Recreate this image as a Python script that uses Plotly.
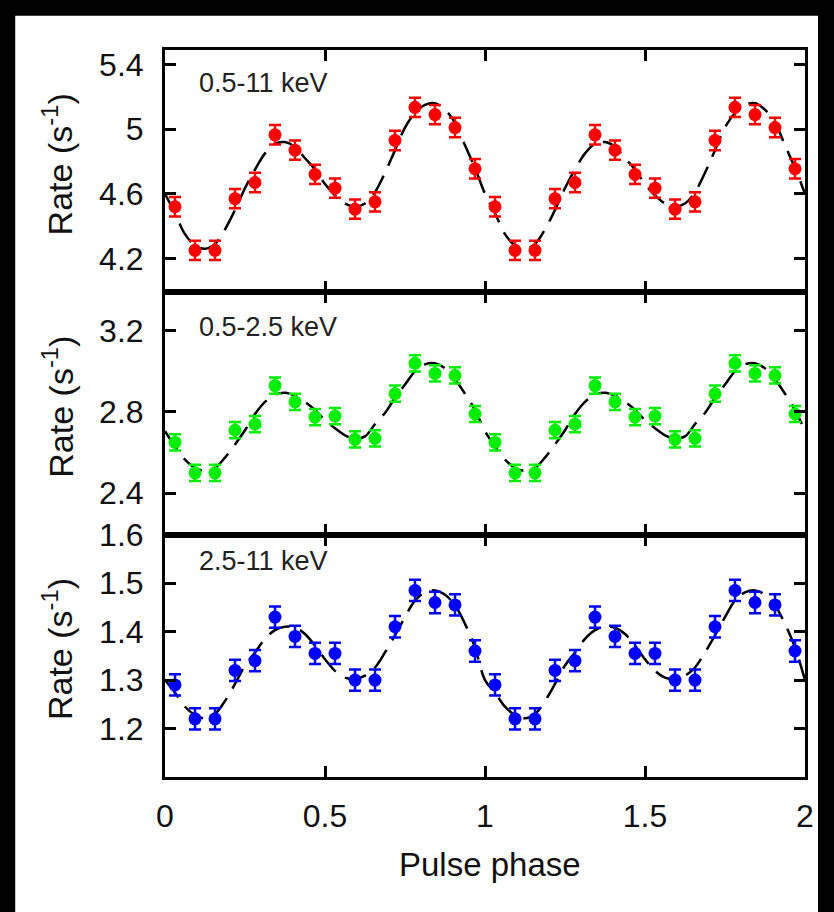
import plotly.graph_objects as go
from plotly.subplots import make_subplots

# ---- data (one pulse cycle, repeated for phase 1-2) ----
bin_phase = [0.03125, 0.09375, 0.15625, 0.21875, 0.28125, 0.34375, 0.40625, 0.46875,
             0.53125, 0.59375, 0.65625, 0.71875, 0.78125, 0.84375, 0.90625, 0.96875]

rate_full = [4.52, 4.25, 4.25, 4.57, 4.67, 4.965, 4.87, 4.72,
             4.635, 4.505, 4.55, 4.93, 5.135, 5.09, 5.01, 4.755]
err_full = [0.06, 0.06, 0.06, 0.06, 0.06, 0.06, 0.06, 0.06,
            0.06, 0.06, 0.06, 0.06, 0.06, 0.06, 0.06, 0.06]

rate_soft = [2.65, 2.50, 2.50, 2.71, 2.74, 2.93, 2.85, 2.775,
             2.78, 2.665, 2.67, 2.89, 3.04, 2.99, 2.98, 2.79]
err_soft = [0.04, 0.04, 0.04, 0.04, 0.04, 0.04, 0.04, 0.04,
            0.04, 0.04, 0.04, 0.04, 0.04, 0.04, 0.04, 0.04]

rate_hard = [1.29, 1.22, 1.22, 1.32, 1.34, 1.43, 1.39, 1.355,
             1.355, 1.30, 1.30, 1.41, 1.485, 1.46, 1.455, 1.36]
err_hard = [0.022, 0.022, 0.022, 0.022, 0.022, 0.022, 0.022, 0.022,
            0.022, 0.022, 0.022, 0.022, 0.022, 0.022, 0.022, 0.022]

# model curves, phase 0..1 in steps of 1/32
model_phase = [i / 32 for i in range(33)]
model_full = [4.60, 4.48, 4.35, 4.28, 4.26, 4.29, 4.38, 4.50, 4.635, 4.75, 4.85,
              4.91, 4.92, 4.89, 4.82, 4.75, 4.66, 4.59, 4.54, 4.52, 4.54, 4.61,
              4.73, 4.87, 5.01, 5.10, 5.15, 5.16, 5.12, 5.04, 4.90, 4.76, 4.60]
model_soft = [2.705, 2.63, 2.565, 2.525, 2.51, 2.525, 2.575, 2.64, 2.71, 2.79, 2.85,
              2.885, 2.895, 2.88, 2.85, 2.81, 2.76, 2.72, 2.685, 2.67, 2.68, 2.74,
              2.795, 2.87, 2.935, 3.00, 3.035, 3.04, 3.015, 2.96, 2.89, 2.81, 2.705]
model_hard = [1.30, 1.274, 1.245, 1.228, 1.221, 1.23, 1.257, 1.292, 1.33, 1.357, 1.385,
              1.403, 1.41, 1.408, 1.395, 1.371, 1.343, 1.319, 1.305, 1.302, 1.309, 1.326,
              1.357, 1.392, 1.43, 1.464, 1.481, 1.485, 1.476, 1.454, 1.416, 1.367, 1.30]

band_labels = ["0.5-11 keV", "0.5-2.5 keV", "2.5-11 keV"]
x_ticks = [0, 0.5, 1, 1.5, 2]
x_ticktext = ["0", "0.5", "1", "1.5", "2"]
y_ticks = [[4.2, 4.6, 5.0, 5.4], [2.4, 2.8, 3.2], [1.2, 1.3, 1.4, 1.5, 1.6]]
y_ticktext = [["4.2", "4.6", "5", "5.4"], ["2.4", "2.8", "3.2"], ["1.2", "1.3", "1.4", "1.5", "1.6"]]
y_ranges = [[3.99, 5.49], [2.195, 3.39], [1.1, 1.6]]
colors = ["#ff0000", "#00ee00", "#0000ff"]

# ---- figure ----
fig = make_subplots(rows=3, cols=1, shared_xaxes=True, vertical_spacing=0)

series = [(rate_full, err_full, model_full),
          (rate_soft, err_soft, model_soft),
          (rate_hard, err_hard, model_hard)]

phase2 = bin_phase + [p + 1 for p in bin_phase]
mphase2 = model_phase + [p + 1 for p in model_phase[1:]]

for i, (rate, err, model) in enumerate(series):
    row = i + 1
    fig.add_trace(go.Scatter(
        x=mphase2, y=model + model[1:], mode="lines",
        line=dict(color="black", width=2.5, dash="22px,11px", shape="spline"),
        showlegend=False, hoverinfo="skip"), row=row, col=1)
    fig.add_trace(go.Scatter(
        x=phase2, y=rate + rate, mode="markers",
        marker=dict(color=colors[i], size=13),
        error_y=dict(type="data", array=err + err, color=colors[i], thickness=2.5, width=6),
        showlegend=False), row=row, col=1)

FONT = "Liberation Sans, Arial, sans-serif"
axis_font = dict(family=FONT, size=32, color="#111")

fig.update_xaxes(range=[0, 2], tickvals=x_ticks, ticktext=x_ticktext,
                 ticks="inside", ticklen=11, tickwidth=3, tickcolor="black",
                 showline=True, linewidth=3, linecolor="black", mirror="ticks",
                 showgrid=False, zeroline=False, tickfont=axis_font,
                 ticklabelstandoff=9)

for i in range(3):
    fig.update_yaxes(range=y_ranges[i], tickvals=y_ticks[i], ticktext=y_ticktext[i],
                     ticks="inside", ticklen=11, tickwidth=3, tickcolor="black",
                     showline=True, linewidth=3, linecolor="black", mirror="ticks",
                     showgrid=False, zeroline=False, tickfont=axis_font,
                     ticklabelstandoff=12, row=i + 1, col=1)

annotations = []
label_y = [0.864, 0.857, 0.891]
for i in range(3):
    yref = "y domain" if i == 0 else f"y{i + 1} domain"
    annotations.append(dict(text=band_labels[i], xref="paper", x=0.05, xanchor="left",
                            yref=yref, y=label_y[i], yanchor="middle", showarrow=False,
                            font=dict(family=FONT, size=27, color="#222")))
    annotations.append(dict(text="Rate (s<sup>-1</sup>)", xref="paper", x=-0.168, xanchor="center",
                            yref=yref, y=0.53, yanchor="middle", textangle=-90, showarrow=False,
                            font=dict(family=FONT, size=34, color="#111")))
annotations.append(dict(text="Pulse phase", xref="paper", x=0.508, xanchor="center",
                        yref="paper", y=-0.121, yanchor="middle", showarrow=False,
                        font=dict(family=FONT, size=33, color="#111")))

fig.update_layout(
    width=834, height=912,
    margin=dict(l=165, r=29, t=50, b=135),
    paper_bgcolor="black", plot_bgcolor="white",
    annotations=annotations,
    shapes=[dict(type="rect", xref="paper", yref="paper", layer="below",
                 x0=-0.234, x1=1.0203, y0=-0.186, y1=1.047,
                 fillcolor="white", line=dict(width=0))],
)

fig.write_html("out.html", config={"displayModeBar": False},
               post_script="document.body.style.margin='0';document.body.style.background='black';")
